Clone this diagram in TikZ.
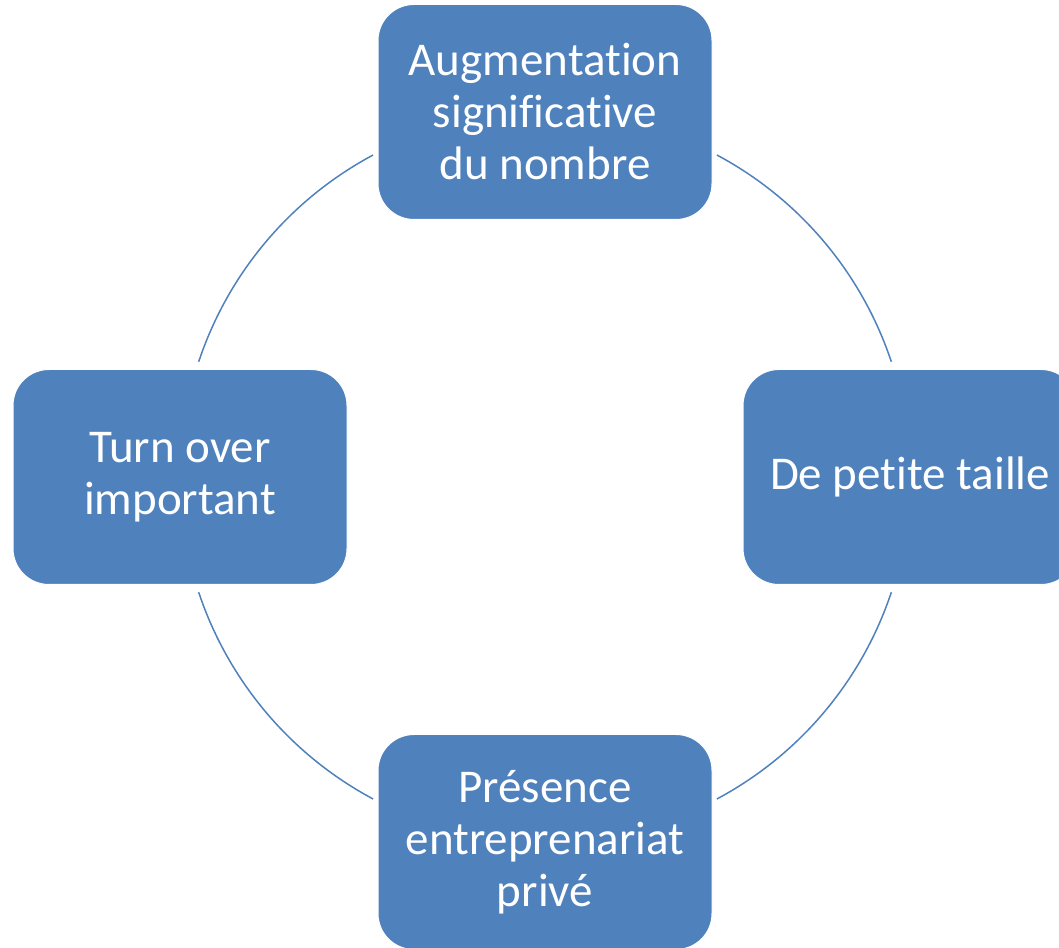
\documentclass[tikz,border=0pt]{standalone}
\usepackage{fontspec}
\setmainfont{Carlito}[Ligatures=CommonOff]
\definecolor{boxblue}{HTML}{4F81BD}
\begin{document}
\begin{tikzpicture}[x=1pt,y=1pt,
  cyclebox/.style={draw=white, line width=1pt, fill=boxblue, rounded corners=36pt,
    minimum width=334pt, minimum height=215pt, inner sep=0pt,
    text=white, align=center, text width=330pt,
    font=\fontsize{47}{52}\selectfont,
    execute at begin node={\spaceskip=0.226em\relax}},
  cyclearc/.style={draw=boxblue, line width=1.5pt}]
\useasboundingbox (0,0) rectangle (1059,947);
\clip (0,0) rectangle (1059,947);
\coordinate (c) at (545,470);
\draw[cyclearc] ([shift={(61.9:365)}]c) arc (61.9:18.4:365);
\draw[cyclearc] ([shift={(-18.4:365)}]c) arc (-18.4:-61.9:365);
\draw[cyclearc] ([shift={(-118.1:365)}]c) arc (-118.1:-161.6:365);
\draw[cyclearc] ([shift={(161.6:365)}]c) arc (161.6:118.1:365);
\node[cyclebox] (top) at (545,835) {Augmentation\\significative\\du nombre};
\node[cyclebox] (right) at (910,470) {De petite taille};
\node[cyclebox] (bottom) at (545,105) {Présence\\entreprenariat\\privé};
\node[cyclebox] (left) at (180,470) {Turn over\\important};
\end{tikzpicture}
\end{document}
